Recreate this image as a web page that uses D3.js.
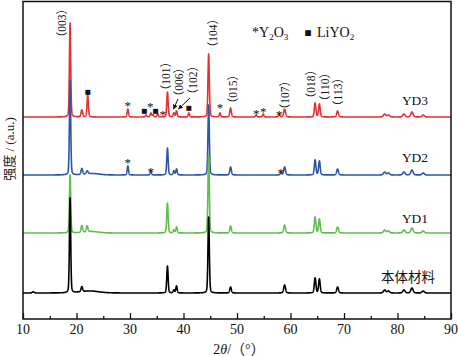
<!DOCTYPE html>
<html><head><meta charset="utf-8">
<script src="https://cdn.jsdelivr.net/npm/d3@7"></script>
<style>
html,body{margin:0;padding:0;background:#fff;}
svg{display:block;font-family:"Liberation Serif","Noto Sans CJK SC",serif;}
</style></head>
<body>
<svg id="c" width="458" height="356"></svg>
<script>
// ---- data ----
// peaks: [2θ position, height (a.u.), FWHM (°)]
const seriesNames = ["本体材料", "YD1", "YD2", "YD3"];
const seriesColors = ["#000000", "#5fbf4c", "#2d56a8", "#e53035"];
const seriesOffsets = [0, 60, 118, 176];
const peaksBulk = [
  [11.9,1.2,0.4],[18.8,95,0.28],[21.0,5,0.35],[22.5,2,4],[37.0,27,0.3],[38.2,3,0.3],[38.7,7,0.3],
  [44.7,76,0.3],[48.8,6,0.35],[58.9,8,0.4],[64.6,15,0.35],[65.4,14,0.35],[68.8,6,0.4],
  [77.6,3,0.5],[78.3,2,0.5],[81.2,3,0.5],[82.7,5,0.5],[84.8,2,0.5]
];
const peaksYD1 = [
  [18.8,58,0.28],[21.0,7,0.35],[22.0,6,0.35],[22.8,1.5,3],[37.0,30,0.3],[38.2,3,0.3],[38.7,6,0.3],
  [44.7,78,0.3],[48.8,7,0.35],[58.9,8,0.4],[64.6,16,0.35],[65.4,14,0.35],[68.8,6,0.4],
  [77.6,3,0.5],[78.3,2,0.5],[81.2,3,0.5],[82.7,5,0.5],[84.8,2,0.5]
];
const peaksYD2 = [
  [18.8,95,0.28],[21.0,6,0.35],[22.0,3,0.4],[23.0,1.5,3],[29.6,9,0.3],[33.9,4,0.3],[37.0,27,0.3],[38.2,4,0.3],[38.7,6,0.3],
  [44.7,70,0.3],[48.8,8,0.35],[58.2,3,0.3],[58.9,8,0.4],[64.6,15,0.35],[65.4,14,0.35],[68.8,6,0.4],
  [77.6,3,0.5],[78.3,2,0.5],[81.2,3,0.5],[82.7,5,0.5],[84.8,2,0.5]
];
const peaksYD3 = [
  [18.8,94,0.28],[21.0,7,0.35],[22.1,22,0.3],[29.6,8,0.3],[33.0,2,0.3],[33.9,4,0.3],[34.3,2,0.3],[35.2,3,0.3],
  [37.0,25,0.3],[38.2,4,0.3],[38.7,6,0.3],[41.0,4,0.3],
  [44.7,63,0.3],[46.8,4,0.3],[48.8,9,0.35],[53.6,2,0.3],[54.9,3,0.3],[57.9,3,0.3],[58.9,8,0.4],
  [64.6,14,0.35],[65.4,13,0.35],[68.8,6,0.4],
  [77.6,3,0.5],[78.3,2,0.5],[81.2,3,0.5],[82.7,5,0.5],[84.8,2,0.5]
];
const seriesPeaks = [peaksBulk, peaksYD1, peaksYD2, peaksYD3];
const xTicks = [10,20,30,40,50,60,70,80,90];
const xMinorTicks = [15,25,35,45,55,65,75,85];
const hklLabels = ["（003）","（104）","（101）","（006）","（102）","（015）","（107）","（018）","（110）","（113）"];
// label anchor (pixel layout table)
const hklLayout = {"（003）":[62,23],"（104）":[213,33],"（101）":[166,76],"（006）":[179,82],"（102）":[193,80],
  "（015）":[233,89],"（107）":[285,95],"（018）":[311,84],"（110）":[325,87],"（113）":[338,92]};
// impurity markers: [symbol, 2θ, series index, height above baseline]
const markers = [
  ["■",22.1,3,25],["*",29.6,3,13],["■",32.7,3,6],["*",33.8,3,12],["■",34.8,3,6],["*",36.1,3,4],["■",41.0,3,9],["*",46.8,3,11],
  ["*",53.6,3,5],["*",54.9,3,7],["*",57.9,3,4],
  ["*",29.6,2,14],["*",33.9,2,5],["*",58.2,2,4]
];

// ---- layout ----
const svg = d3.select("#c");
const L = 23, R = 451, T = 1.5, B = 319;
const x = d3.scaleLinear().domain([10, 90]).range([L, R]);
const y = d3.scaleLinear().domain([-26, 291.5]).range([B, T]);

function profile(peaks, t) {
  let s = 0;
  for (const [p, h, w] of peaks) {
    const u = (t - p) / (w / 2);
    const u2 = u * u;
    s += h * (0.25 / (1 + u2) + 0.75 * Math.exp(-Math.LN2 * u2));
  }
  return s;
}
const grid = d3.range(10, 90.0001, 0.02);
const line = d3.line().x(d => x(d[0])).y(d => y(d[1]));

const defs = svg.append("defs");
defs.append("clipPath").attr("id","clip").append("rect")
  .attr("x", L).attr("y", T).attr("width", R - L).attr("height", B - T);

// draw red first, black last
const g = svg.append("g").attr("clip-path","url(#clip)");
[3,2,1,0].forEach(i => {
  const pts = grid.map(t => [t, seriesOffsets[i] + profile(seriesPeaks[i], t)]);
  g.append("path").attr("d", line(pts)).attr("fill","none")
    .attr("stroke", seriesColors[i]).attr("stroke-width", 1.6).attr("stroke-linejoin","round");
});

// frame
svg.append("rect").attr("x", L).attr("y", T).attr("width", R - L).attr("height", B - T)
  .attr("fill","none").attr("stroke","#111").attr("stroke-width",1.5);

// x axis ticks (inward)
const ax = svg.append("g").attr("transform", `translate(0,${B})`);
ax.call(d3.axisBottom(x).tickValues(xTicks).tickSize(-6).tickFormat(""))
  .call(a => a.select(".domain").remove());
ax.append("g").call(d3.axisBottom(x).tickValues(xMinorTicks).tickSize(-3).tickFormat(""))
  .call(a => a.select(".domain").remove());
ax.selectAll("line").attr("stroke","#111").attr("stroke-width",1.3);
svg.selectAll(".xl").data(xTicks).enter().append("text")
  .attr("x", d => x(d)).attr("y", 334).attr("text-anchor","middle")
  .attr("font-size", 14).style("fill","#111").text(d => d);

// axis titles
const xt = svg.append("text").attr("x", 239).attr("y", 354).attr("text-anchor","middle")
  .attr("font-size", 14).style("fill","#111");
xt.append("tspan").text("2");
xt.append("tspan").attr("font-style","italic").text("θ");
xt.append("tspan").text("/（°）");
svg.append("text").attr("transform","translate(14,149) rotate(-90)").attr("text-anchor","middle")
  .attr("font-size", 13).style("fill","#222").text("强度 / (a.u.)");

// hkl labels
hklLabels.forEach(lab => {
  const [px, py] = hklLayout[lab];
  svg.append("text").attr("transform", `translate(${px},${py}) rotate(-90)`)
    .attr("text-anchor","middle").attr("dominant-baseline","central")
    .attr("font-size", 11.5).style("fill","#111")
    .text(lab);
});

// arrows for (006) and (102)
defs.append("marker").attr("id","ah").attr("viewBox","0 0 10 10").attr("refX",9).attr("refY",5)
  .attr("markerWidth",5).attr("markerHeight",5).attr("orient","auto")
  .append("path").attr("d","M0,0L10,5L0,10z").attr("fill","#111");
[[178,99,173.5,109],[190,98,178.5,109]].forEach(([x1,y1,x2,y2]) => {
  svg.append("line").attr("x1",x1).attr("y1",y1).attr("x2",x2).attr("y2",y2)
    .attr("stroke","#111").attr("stroke-width",1).attr("marker-end","url(#ah)");
});

// impurity markers
markers.forEach(([s, t, si, h]) => {
  const yy = y(seriesOffsets[si] + h);
  svg.append("text").attr("x", x(t)).attr("y", s === "*" ? yy + 6 : yy + 2)
    .attr("text-anchor","middle")
    .attr("font-family", s === "*" ? "Liberation Serif" : "DejaVu Sans")
    .attr("font-size", s === "*" ? 13 : 6.5).style("fill","#111").text(s);
});

// legend
const lg1 = svg.append("text").attr("x", 252).attr("y", 37).attr("font-size", 14).style("fill","#111");
lg1.append("tspan").text("*Y");
lg1.append("tspan").attr("font-size",9).attr("dy",3).text("2");
lg1.append("tspan").attr("dy",-3).text("O");
lg1.append("tspan").attr("font-size",9).attr("dy",3).text("3");
svg.append("text").attr("x", 308).attr("y", 35).attr("text-anchor","middle")
  .attr("font-family","DejaVu Sans").attr("font-size", 7.5).style("fill","#111").text("■");
const lg2 = svg.append("text").attr("x", 317).attr("y", 37).attr("font-size", 14).style("fill","#111");
lg2.append("tspan").text("LiYO");
lg2.append("tspan").attr("font-size",9).attr("dy",3).text("2");

// series labels
const labPos = [[408,282],[415,223],[415,162],[415,105]];
seriesNames.forEach((n, i) => {
  svg.append("text").attr("x", labPos[i][0]).attr("y", labPos[i][1]).attr("text-anchor","middle")
    .attr("font-size", 13.5).style("fill","#111").text(n);
});
</script>
</body></html>
